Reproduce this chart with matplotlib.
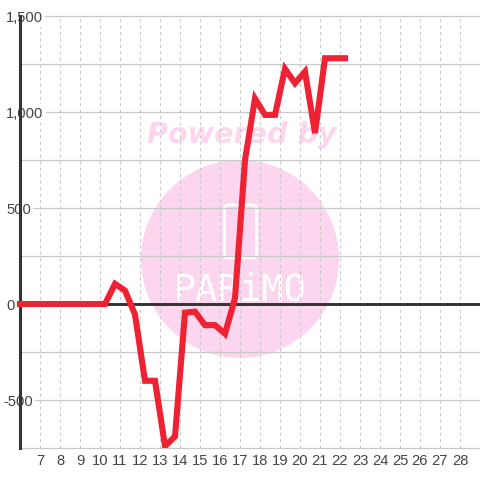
import matplotlib
matplotlib.use("Agg")
import matplotlib.pyplot as plt
from matplotlib.patches import Circle, Rectangle, FancyBboxPatch
from matplotlib.transforms import Affine2D

plt.rcParams['font.family'] = ['Liberation Sans', 'DejaVu Sans']

hours = [6, 10.25, 10.75, 11.25, 11.75, 12.25, 12.75, 13.25, 13.75, 14.25, 14.75, 15.25, 15.75,
         16.25, 16.75, 17.25, 17.75, 18.25, 18.75, 19.25, 19.75, 20.25, 20.75, 21.25, 22.25]
values = [0, 0, 105, 70, -55, -400, -400, -740, -690, -45, -40, -110, -110,
          -155, 30, 750, 1070, 985, 985, 1225, 1150, 1210, 890, 1280, 1280]
x_ticks = list(range(7, 29))
y_ticks = [-750, -500, -250, 0, 250, 500, 750, 1000, 1250, 1500]
y_labels = ['', '-500', '', '0', '', '500', '', '1,000', '', '1,500']

S = 480
fig = plt.figure(figsize=(4.8, 4.8), dpi=100, facecolor='white')
ax = fig.add_axes([20 / S, 32 / S, 460 / S, 432 / S], zorder=1)
ax.set_xlim(6, 29)
ax.set_ylim(-750, 1500)
ax.patch.set_visible(False)

for name in ['top', 'right', 'bottom']:
    ax.spines[name].set_visible(False)
ax.spines['left'].set_linewidth(2.2)
ax.spines['left'].set_color('#333333')

ax.set_xticks(x_ticks, [str(v) for v in x_ticks])
ax.set_yticks(y_ticks, y_labels)
ax.tick_params(axis='both', length=0, labelsize=10.6, labelcolor='#444444')
ax.tick_params(axis='x', pad=4.5)
ax.tick_params(axis='y', pad=10)
ax.xaxis.grid(True, color='#c8c8c8', linewidth=0.75, linestyle=(0, (3, 3.2)))
ax.yaxis.grid(True, color='#c8c8c8', linewidth=0.9)

for tick in ax.yaxis.get_major_ticks():
    tick.gridline.set_clip_on(False)
    lab = tick.label1
    lab.set_ha('left')
    if lab.get_text():
        lab.set_bbox(dict(facecolor='white', edgecolor='none', pad=1.5))
    if lab.get_text().startswith('-'):
        tick.set_pad(12.2)

# watermark, placed in figure pixels behind the axes
def P(x, y):
    return x / S, 1 - y / S

pixels = Affine2D()
fig.add_artist(Circle((240, S - 259), 99, transform=pixels, facecolor='#fcd6ee', edgecolor='none', zorder=-2))
fig.text(*P(242, 135), 'Powered by', fontsize=20.6, fontweight='bold', style='italic', family='DejaVu Sans',
         color='#fcd6ee', ha='center', va='center', zorder=-1)
fig.text(*P(240, 290), 'PARiMO', fontsize=26.5, family='DejaVu Sans Mono', color='white',
         ha='center', va='center', zorder=-1)
fig.add_artist(FancyBboxPatch((224.5, S - 258), 32, 53, boxstyle='round,pad=0,rounding_size=3',
                              transform=pixels, facecolor='none', edgecolor='white', linewidth=2, zorder=-1))

ax.axhline(0, color='#333333', linewidth=2.1, zorder=2.9)
line, = ax.plot(hours, values, color='#ee2233', linewidth=4.4, solid_joinstyle='miter',
                solid_capstyle='projecting', zorder=3)
line.set_clip_path(Rectangle((0, 32 / S), 1, 432 / S, transform=fig.transFigure))

fig.savefig('out.png', dpi=100)
